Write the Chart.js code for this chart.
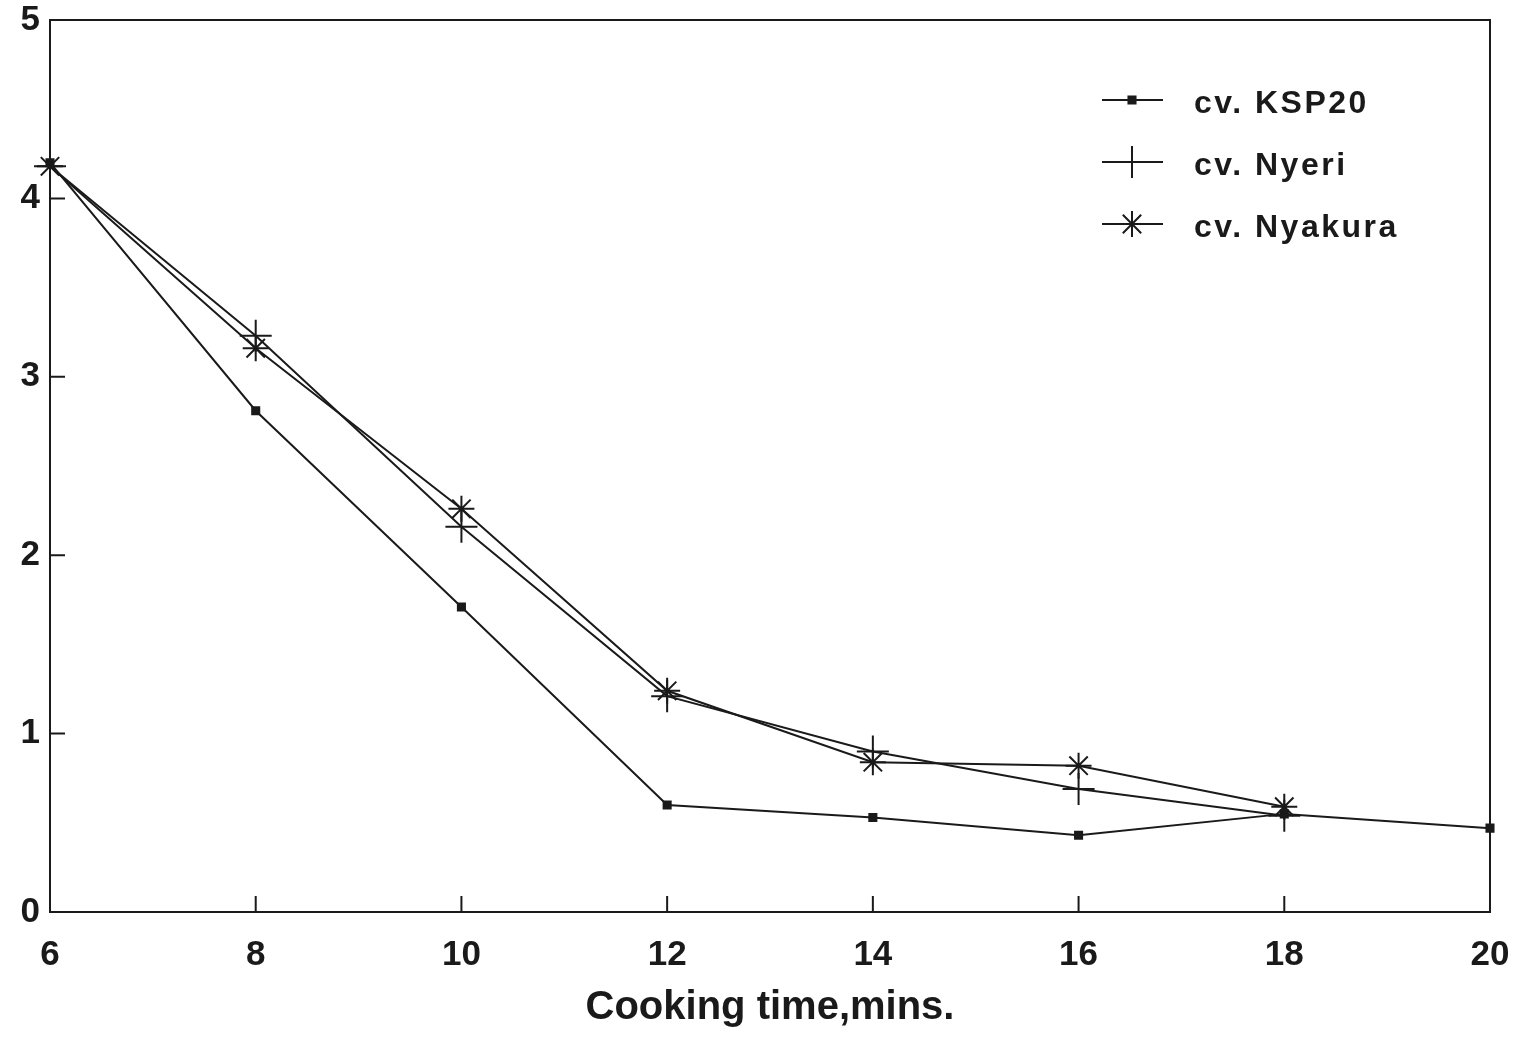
<!DOCTYPE html>
<html>
<head>
<meta charset="utf-8">
<script src="https://cdn.jsdelivr.net/npm/chart.js@4.4.0/dist/chart.umd.min.js"></script>
<style>
  html, body { margin: 0; padding: 0; background: #fff; }
  #wrap { width: 1521px; height: 1038px; }
</style>
</head>
<body>
<div id="wrap"><canvas id="chart" width="1521" height="1038"></canvas></div>
<script>
// cooking time (mins) and scores
const cookTimes = [6, 8, 10, 12, 14, 16, 18, 20];
const ksp20 = [4.20, 2.81, 1.71, 0.60, 0.53, 0.43, 0.55, 0.47];
const nyeri = [4.18, 3.23, 2.16, 1.21, 0.90, 0.69, 0.54, null];
const nyakura = [4.18, 3.16, 2.26, 1.24, 0.84, 0.82, 0.59, null];
const yTicks = [0, 1, 2, 3, 4, 5];
const seriesNames = ['cv. KSP20', 'cv. Nyeri', 'cv. Nyakura'];

const INK = '#1a1a1a';
const FONT = '"Liberation Sans", Arial, sans-serif';

function toPoints(vals) {
    return cookTimes.map((x, i) => ({ x: x, y: vals[i] })).filter(p => p.y !== null);
}

// frame, inward ticks and legend drawn on the canvas
const framePlugin = {
    id: 'frame',
    beforeDatasetsDraw(chart) {
        const { ctx, chartArea: a, scales } = chart;
        ctx.save();
        ctx.strokeStyle = INK;
        ctx.lineWidth = 2;
        ctx.strokeRect(a.left, a.top, a.right - a.left, a.bottom - a.top);
        ctx.beginPath();
        yTicks.forEach(v => {
            const y = scales.y.getPixelForValue(v);
            ctx.moveTo(a.left, y);
            ctx.lineTo(a.left + 15, y);
        });
        cookTimes.forEach(v => {
            const x = scales.x.getPixelForValue(v);
            ctx.moveTo(x, a.bottom);
            ctx.lineTo(x, a.bottom - 16);
        });
        ctx.stroke();
        ctx.restore();
    },
    afterDraw(chart) {
        const { ctx } = chart;
        ctx.save();
        chart.data.datasets.forEach((ds, i) => {
            const y = 100 + i * 62;
            ctx.strokeStyle = INK;
            ctx.lineWidth = 2;
            ctx.beginPath();
            ctx.moveTo(1102, y);
            ctx.lineTo(1163, y);
            ctx.stroke();
            ctx.fillStyle = INK;
            Chart.helpers.drawPoint(ctx, {
                pointStyle: ds.pointStyle,
                radius: ds.pointRadius,
                borderWidth: 2
            }, 1132, y);
            ctx.fillStyle = INK;
            ctx.font = 'bold 32px ' + FONT;
            ctx.letterSpacing = '2.5px';
            ctx.textBaseline = 'middle';
            ctx.fillText(ds.label, 1194, y + 4);
        });
        ctx.restore();
    }
};

function makeSet(label, vals, style, radius) {
    return {
        label: label,
        data: toPoints(vals),
        borderColor: INK,
        backgroundColor: INK,
        borderWidth: 2,
        pointStyle: style,
        pointRadius: radius,
        pointBorderWidth: 2,
        pointBorderColor: INK,
        pointBackgroundColor: INK,
        clip: false,
        tension: 0
    };
}

new Chart(document.getElementById('chart').getContext('2d'), {
    type: 'line',
    data: {
        datasets: [
            makeSet(seriesNames[0], ksp20, 'rect', 5),
            makeSet(seriesNames[1], nyeri, 'cross', 16),
            makeSet(seriesNames[2], nyakura, 'star', 13)
        ]
    },
    options: {
        responsive: false,
        animation: false,
        layout: { padding: { left: 0, right: 31, top: 20, bottom: 0 } },
        scales: {
            x: {
                type: 'linear',
                min: 6,
                max: 20,
                afterBuildTicks: axis => { axis.ticks = cookTimes.map(v => ({ value: v })); },
                afterFit: axis => {
                    axis.paddingLeft = 0;
                    axis.paddingRight = 0;
                    axis.height = 126;
                },
                grid: { display: false, drawTicks: false },
                border: { display: false },
                ticks: {
                    color: INK,
                    padding: 22,
                    font: { family: FONT, size: 35, weight: 'bold' }
                },
                title: {
                    display: true,
                    text: 'Cooking time,mins.',
                    color: INK,
                    padding: { top: 0, bottom: 6 },
                    font: { family: FONT, size: 40, weight: 'bold' }
                }
            },
            y: {
                min: 0,
                max: 5,
                afterBuildTicks: axis => { axis.ticks = yTicks.map(v => ({ value: v })); },
                afterFit: axis => {
                    axis.paddingTop = 0;
                    axis.paddingBottom = 0;
                    axis.width = 50;
                },
                grid: { display: false, drawTicks: false },
                border: { display: false },
                ticks: {
                    color: INK,
                    padding: 10,
                    font: { family: FONT, size: 35, weight: 'bold' }
                }
            }
        },
        plugins: {
            legend: { display: false },
            tooltip: { enabled: false }
        }
    },
    plugins: [framePlugin]
});
</script>
</body>
</html>
